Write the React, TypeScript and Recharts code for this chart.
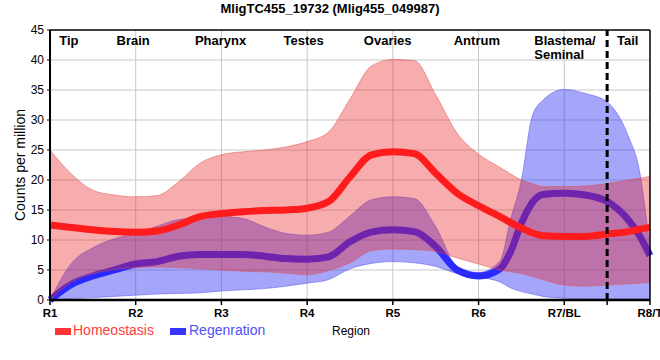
import React from 'react';
import {
  ComposedChart,
  Area,
  Line,
  XAxis,
  YAxis,
  CartesianGrid,
  ReferenceLine,
  ReferenceDot,
} from 'recharts';

// Positions along the body axis (0 = R1 ... 7 = R8/T)
const positions = [0, 0.25, 0.5, 0.75, 1, 1.25, 1.5, 1.75, 2, 2.25, 2.5, 2.75, 3, 3.25, 3.5, 3.75, 4, 4.25, 4.5, 4.75, 5, 5.25, 5.375, 5.5, 5.625, 5.75, 6, 6.25, 6.5, 6.75, 6.875, 7];

const tickLabels = ['R1', 'R2', 'R3', 'R4', 'R5', 'R6', 'R7/BL', 'R8/T'];

const regionNames = ['Tip', 'Brain', 'Pharynx', 'Testes', 'Ovaries', 'Antrum', 'Blastema/\nSeminal', 'Tail'];
const regionAt = [0.22, 0.97, 1.99, 2.96, 3.94, 4.98, 5.65, 6.74];

// Homeostasis
const homeoHigh = [25, 21, 18.3, 17.5, 17.2, 17.4, 19.7, 22.8, 24.2, 24.7, 25, 25.5, 26.4, 28, 33.5, 39, 40.1, 39.9, 34.2, 27.8, 24.3, 22.1, 21, 20, 19.4, 18.9, 18.9, 19, 19.4, 20, 20.3, 20.6];
const homeoLow = [0, 3, 4.4, 5.1, 5.4, 5.5, 5.4, 5.2, 5.0, 4.8, 4.7, 4.5, 4.2, 4.9, 6.2, 8.2, 8.5, 8.4, 8.1, 7, 6, 5, 4.7, 4.4, 3.9, 3.4, 2.5, 2.3, 2.5, 2.7, 2.8, 2.9];
const homeoMean = [12.5, 12.1, 11.7, 11.4, 11.3, 11.5, 12.5, 13.9, 14.4, 14.7, 14.9, 15, 15.3, 16.4, 20.5, 24.2, 24.7, 24.4, 21.1, 17.8, 15.7, 13.9, 12.9, 12, 11.2, 10.7, 10.6, 10.6, 11, 11.4, 11.8, 12.1];

// Regeneration
const regenHigh = [0, 6.1, 8.7, 10.2, 11.1, 12.3, 13.4, 13.7, 13.9, 13.6, 12.2, 11.1, 10.8, 11.3, 14, 16.7, 17.2, 16.9, 12.2, 5.6, 4.6, 6.5, 13.5, 20, 30.6, 33.3, 35.1, 34.4, 33, 27.2, 21.7, 8.5];
const regenLow = [0, 0.2, 0.4, 0.6, 0.8, 1.0, 1.1, 1.2, 1.5, 1.7, 1.9, 2.3, 2.8, 3.4, 5.2, 6.1, 6.4, 6.2, 5.6, 4.4, 3.8, 3.0, 2.0, 1.4, 1.0, 0.6, 0.3, 0.2, 0.2, 0.2, 0.2, 0.2];
const regenMean = [0, 2.6, 4.0, 5.0, 6.0, 6.4, 7.3, 7.6, 7.6, 7.6, 7.3, 6.9, 6.8, 7.2, 9.7, 11.3, 11.7, 11.4, 8.9, 5.0, 4.0, 5.2, 8.1, 12.8, 16.2, 17.6, 17.8, 17.5, 16.4, 13.3, 10.8, 7.4];

const yTicks = [0, 5, 10, 15, 20, 25, 30, 35, 40, 45];
const xTicks = [0, 1, 2, 3, 4, 5, 6, 6.5, 7];

const data = positions.map((x, i) => ({
  x,
  homeoRange: [homeoLow[i], homeoHigh[i]],
  homeoMean: homeoMean[i],
  regenRange: [regenLow[i], regenHigh[i]],
  regenMean: regenMean[i],
}));

const FONT = "'Liberation Sans', Arial, Helvetica, sans-serif";

const makeRegionLabel = (name: string) => (props: any) => {
  const lines = name.split('\n');
  const multi = lines.length > 1;
  const cx = props.cx;
  const cy = props.cy;
  return (
    <text
      x={cx}
      y={cy + 14.5}
      textAnchor={multi ? 'start' : 'middle'}
      fontFamily={FONT}
      fontSize={13}
      fontWeight="bold"
      fill="#000"
    >
      {lines.map((l, i) => (
        <tspan key={i} x={cx} dy={i === 0 ? 0 : 14}>
          {l}
        </tspan>
      ))}
    </text>
  );
};

const yLabel = (props: any) => {
  const vb = props.viewBox || { x: 0, y: 30, width: 50, height: 270 };
  const x = vb.x + 25;
  const y = vb.y + vb.height / 2;
  return (
    <text
      x={x}
      y={y}
      transform={`rotate(-90, ${x}, ${y})`}
      textAnchor="middle"
      fontFamily={FONT}
      fontSize={14}
      fill="#000"
    >
      Counts per million
    </text>
  );
};

export default function App() {
  return (
    <div style={{ position: 'absolute', left: 0, top: 0, width: 660, height: 360, background: '#fff', fontFamily: FONT }}>
      <div
        style={{
          position: 'absolute',
          left: 0,
          top: 1,
          width: 660,
          textAlign: 'center',
          fontSize: 13,
          lineHeight: '15px',
          fontWeight: 'bold',
          color: '#000',
        }}
      >
        MligTC455_19732 (Mlig455_049987)
      </div>
      <ComposedChart width={660} height={360} data={data} margin={{ top: 30, right: 10, bottom: 0, left: 0 }}>
        <CartesianGrid
          stroke="#c8c8c8"
          strokeWidth={1}
          horizontalValues={[5, 10, 15, 20, 25, 30, 35, 40]}
          verticalValues={[1, 2, 3, 4, 5, 6]}
        />
        <XAxis
          type="number"
          dataKey="x"
          domain={[0, 7]}
          ticks={xTicks}
          interval={0}
          tickFormatter={(v: number) => (Number.isInteger(v) ? tickLabels[v] : '')}
          tick={{ fontSize: 11.5, fontWeight: 'bold', fill: '#000', fontFamily: FONT }}
          tickSize={5}
          tickMargin={4}
          tickLine={{ stroke: '#000', strokeWidth: 1.5 }}
          axisLine={{ stroke: '#000', strokeWidth: 2.5 }}
          height={60}
        />
        <YAxis
          type="number"
          domain={[0, 45]}
          ticks={yTicks}
          interval={0}
          tick={{ fontSize: 12, fill: '#000', fontFamily: FONT }}
          tickSize={3}
          tickMargin={3}
          tickLine={{ stroke: '#000', strokeWidth: 1 }}
          axisLine={{ stroke: '#000', strokeWidth: 2 }}
          width={50}
          label={yLabel}
        />
        <Area
          type="monotone"
          dataKey="regenRange"
          fill="#2828f0"
          fillOpacity={0.42}
          stroke="#5050f0"
          strokeOpacity={0.5}
          strokeWidth={1}
          isAnimationActive={false}
          zIndex={100}
        />
        <Line
          type="monotone"
          dataKey="regenMean"
          stroke="#2a2aff"
          strokeWidth={7}
          dot={false}
          activeDot={false}
          isAnimationActive={false}
          zIndex={110}
        />
        <Area
          type="monotone"
          dataKey="homeoRange"
          fill="#e81c1c"
          fillOpacity={0.36}
          stroke="#e05050"
          strokeOpacity={0.5}
          strokeWidth={1}
          isAnimationActive={false}
          zIndex={120}
        />
        <Line
          type="monotone"
          dataKey="homeoMean"
          stroke="#ff1c1c"
          strokeWidth={7}
          dot={false}
          activeDot={false}
          isAnimationActive={false}
          zIndex={130}
        />
        <ReferenceLine y={45} stroke="#000" strokeWidth={1.5} zIndex={600} />
        <ReferenceLine x={7} stroke="#000" strokeWidth={1.5} zIndex={600} />
        <ReferenceLine x={6.5} stroke="#000" strokeWidth={3} strokeDasharray="7 4" zIndex={600} />
        {regionNames.map((name, i) => (
          <ReferenceDot key={name} x={regionAt[i]} y={45} r={0} shape={makeRegionLabel(name)} zIndex={700} />
        ))}
      </ComposedChart>
      <div style={{ position: 'absolute', left: 55, top: 328, width: 16, height: 7, background: '#ff3535' }} />
      <div style={{ position: 'absolute', left: 73, top: 322, fontSize: 14, lineHeight: '16px', color: '#ff4040', whiteSpace: 'nowrap' }}>
        Homeostasis
      </div>
      <div style={{ position: 'absolute', left: 170, top: 328, width: 16, height: 7, background: '#3535ff' }} />
      <div style={{ position: 'absolute', left: 189, top: 322, fontSize: 14, lineHeight: '16px', color: '#5050ff', whiteSpace: 'nowrap' }}>
        Regenration
      </div>
      <div style={{ position: 'absolute', left: 332, top: 324, fontSize: 12, lineHeight: '14px', color: '#000', whiteSpace: 'nowrap' }}>
        Region
      </div>
    </div>
  );
}
